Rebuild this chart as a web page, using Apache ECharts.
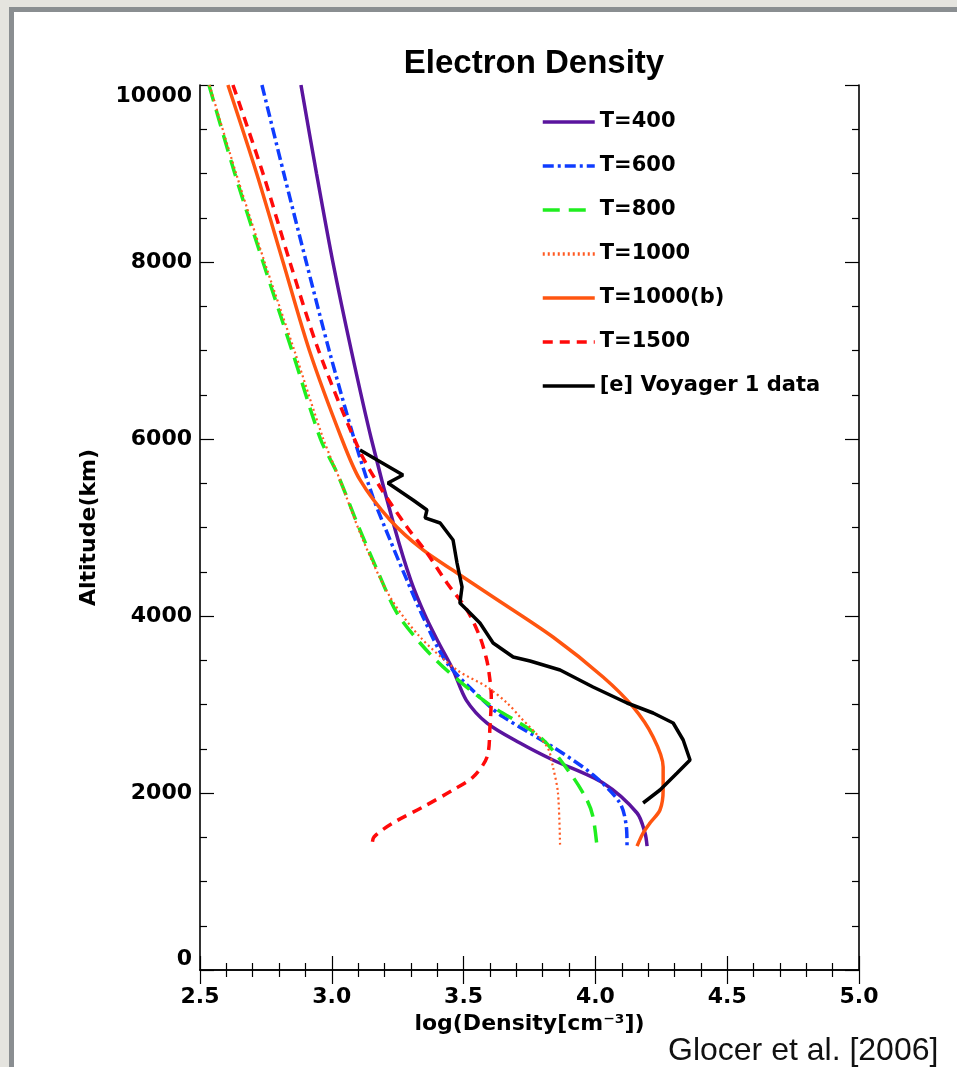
<!DOCTYPE html>
<html>
<head>
<meta charset="utf-8">
<script src="https://cdn.jsdelivr.net/npm/echarts@6/dist/echarts.min.js"></script>
<style>
  html, body { margin: 0; padding: 0; width: 957px; height: 1067px; overflow: hidden; background: #e5e4df; }
  #panel { position: absolute; left: 9px; top: 7px; width: 1000px; height: 1100px; background: #ffffff;
           border-left: 5px solid #8a8e91; border-top: 5px solid #8a8e91; }
  #chart { position: absolute; left: 0; top: 0; width: 957px; height: 1067px; }
</style>
</head>
<body>
<div id="panel"></div>
<div id="chart"></div>
<script>
// ---- data: [log10(density cm^-3), altitude km] ----
const seriesNames = ['T=400', 'T=600', 'T=800', 'T=1000', 'T=1000(b)', 'T=1500', '[e] Voyager 1 data'];

const t400 = [[2.883,10000],[2.942,9000],[3.004,8000],[3.074,7000],[3.150,6000],[3.238,5000],[3.300,4400],
  [3.355,4000],[3.405,3700],[3.460,3390],[3.510,3050],[3.589,2790],[3.714,2565],[3.839,2373],[4.029,2113],
  [4.158,1774],[4.188,1550],[4.196,1400]];

const t600 = [[2.735,10000],[2.818,9000],[2.903,8000],[2.990,7000],[3.085,6000],[3.156,5345],[3.221,4860],
  [3.285,4405],[3.346,3990],[3.437,3470],[3.585,3017],[3.650,2860],[3.839,2520],[3.991,2205],[4.093,1887],
  [4.118,1600],[4.120,1400]];

const t800 = [[2.534,10000],[2.632,9000],[2.739,8000],[2.849,7000],[2.957,6000],[3.020,5615],[3.096,5050],
  [3.172,4520],[3.247,4035],[3.335,3695],[3.422,3425],[3.589,3017],[3.790,2633],[3.904,2226],[3.968,1921],
  [3.991,1729],[4.006,1400]];

const t1000 = [[2.536,10000],[2.637,9000],[2.745,8000],[2.858,7000],[2.968,6000],[3.031,5537],[3.118,4860],
  [3.221,4215],[3.335,3763],[3.475,3390],[3.589,3198],[3.665,3017],[3.714,2860],[3.817,2520],[3.839,2294],
  [3.858,2000],[3.866,1400]];

const t1000b = [[2.606,10000],[2.715,9000],[2.815,8000],[2.915,7000],[3.038,6000],[3.107,5537],[3.221,5085],
  [3.346,4746],[3.475,4486],[3.612,4215],[3.839,3763],[4.029,3311],[4.143,2972],[4.219,2633],[4.257,2294],
  [4.257,2034],[4.245,1808],[4.207,1661],[4.181,1548],[4.158,1400]];

const t1500 = [[2.625,10000],[2.739,9000],[2.841,8000],[2.950,7000],[3.104,5876],[3.183,5458],[3.285,5006],
  [3.361,4712],[3.437,4373],[3.513,4068],[3.562,3763],[3.585,3537],[3.595,3390],[3.605,3085],[3.600,2746],
  [3.589,2407],[3.536,2181],[3.460,2034],[3.346,1842],[3.232,1661],[3.160,1503],[3.153,1400]];

const voyager = [[3.107,5876],[3.172,5763],[3.270,5594],[3.213,5503],[3.308,5311],[3.361,5198],[3.354,5108],
  [3.411,5051],[3.460,4859],[3.475,4599],[3.494,4328],[3.486,4147],[3.513,4068],[3.562,3921],[3.612,3695],
  [3.688,3537],[3.752,3492],[3.866,3390],[3.991,3198],[4.120,3017],[4.219,2904],[4.295,2791],[4.333,2599],
  [4.359,2373],[4.310,2226],[4.245,2034],[4.181,1887]];

const xTicks = [2.5, 3.0, 3.5, 4.0, 4.5, 5.0];
const yTicks = [0, 2000, 4000, 6000, 8000, 10000];

// ---- chart ----
const chart = echarts.init(document.getElementById('chart'), null, { renderer: 'canvas' });

const labelFont = { fontFamily: 'DejaVu Sans', fontWeight: 'bold', fontSize: 22, color: '#000' };
const nameFont = { fontFamily: 'DejaVu Sans', fontWeight: 'bold', fontSize: 22, color: '#000' };
const axisLine = { show: true, lineStyle: { color: '#000', width: 1.6 } };

function xAx(pos, showLabel) {
  return {
    type: 'value', position: pos, min: xTicks[0], max: xTicks[xTicks.length - 1], interval: 0.5,
    axisLine: axisLine,
    axisTick: { show: true, inside: true, length: 14, lineStyle: { color: '#000', width: 1.2 } },
    minorTick: { show: true, splitNumber: 5, length: 7, lineStyle: { color: '#000', width: 1.2 } },
    splitLine: { show: false },
    axisLabel: Object.assign({ show: showLabel, margin: 16, formatter: v => v.toFixed(1) }, labelFont),
    name: showLabel ? 'log(Density[cm⁻³])' : '',
    nameLocation: 'middle', nameGap: 42,
    nameTextStyle: nameFont
  };
}
function yAx(pos, showLabel) {
  return {
    type: 'value', position: pos, min: yTicks[0], max: yTicks[yTicks.length - 1], interval: 2000,
    axisLine: axisLine,
    axisTick: { show: true, inside: true, length: 14, lineStyle: { color: '#000', width: 1.2 } },
    minorTick: { show: true, splitNumber: 4, length: 7, lineStyle: { color: '#000', width: 1.2 } },
    splitLine: { show: false },
    axisLabel: Object.assign({ show: showLabel, margin: 8, formatter: v => String(v),
      verticalAlignMinLabel: 'bottom', verticalAlignMaxLabel: 'top' }, labelFont),
    name: showLabel ? 'Altitude(km)' : '',
    nameLocation: 'middle', nameGap: 100,
    nameTextStyle: nameFont
  };
}

const styles = [
  { color: '#5a149e', width: 3.5, type: 'solid' },
  { color: '#0f3cff', width: 3.5, type: [11, 4, 3, 4] },
  { color: '#1fee1f', width: 3.5, type: [17, 9] },
  { color: '#ff5a22', width: 2.2, type: [2, 3] },
  { color: '#ff5510', width: 3.5, type: 'solid' },
  { color: '#ff0a0a', width: 3.5, type: [10, 7] },
  { color: '#000000', width: 3.5, type: 'solid' }
];
const datasets = [t400, t600, t800, t1000, t1000b, t1500, voyager];

const series = datasets.map((d, i) => ({
  name: seriesNames[i],
  type: 'line',
  data: d,
  xAxisIndex: 0, yAxisIndex: 0,
  symbol: 'none',
  smooth: i === 6 ? false : 0.3,
  lineStyle: { color: styles[i].color, width: styles[i].width, type: styles[i].type },
  itemStyle: { color: styles[i].color },
  clip: true
}));

chart.setOption({
  animation: false,
  backgroundColor: 'transparent',
  title: [
    { text: 'Electron Density', left: 529, top: 42, textAlign: 'center',
      textStyle: { fontFamily: 'Liberation Sans', fontWeight: 'bold', fontSize: 33, color: '#000' } },
    { text: 'Glocer et al. [2006]', left: 663, top: 1030,
      textStyle: { fontFamily: 'Liberation Sans', fontWeight: 'normal', fontSize: 32, color: '#111' } }
  ],
  grid: { left: 200, right: 98, top: 85, bottom: 97, containLabel: false },
  xAxis: [xAx('bottom', true), xAx('top', false)],
  yAxis: [yAx('left', true), yAx('right', false)],
  legend: {
    orient: 'vertical', left: 541, top: 110, padding: 0,
    itemWidth: 52, itemHeight: 14, itemGap: 20,
    data: seriesNames,
    itemStyle: { opacity: 0 },
    lineStyle: { width: 3.5 },
    textStyle: { fontFamily: 'DejaVu Sans', fontWeight: 'bold', fontSize: 21, color: '#000', lineHeight: 24 }
  },
  series: series
});
</script>
</body>
</html>
